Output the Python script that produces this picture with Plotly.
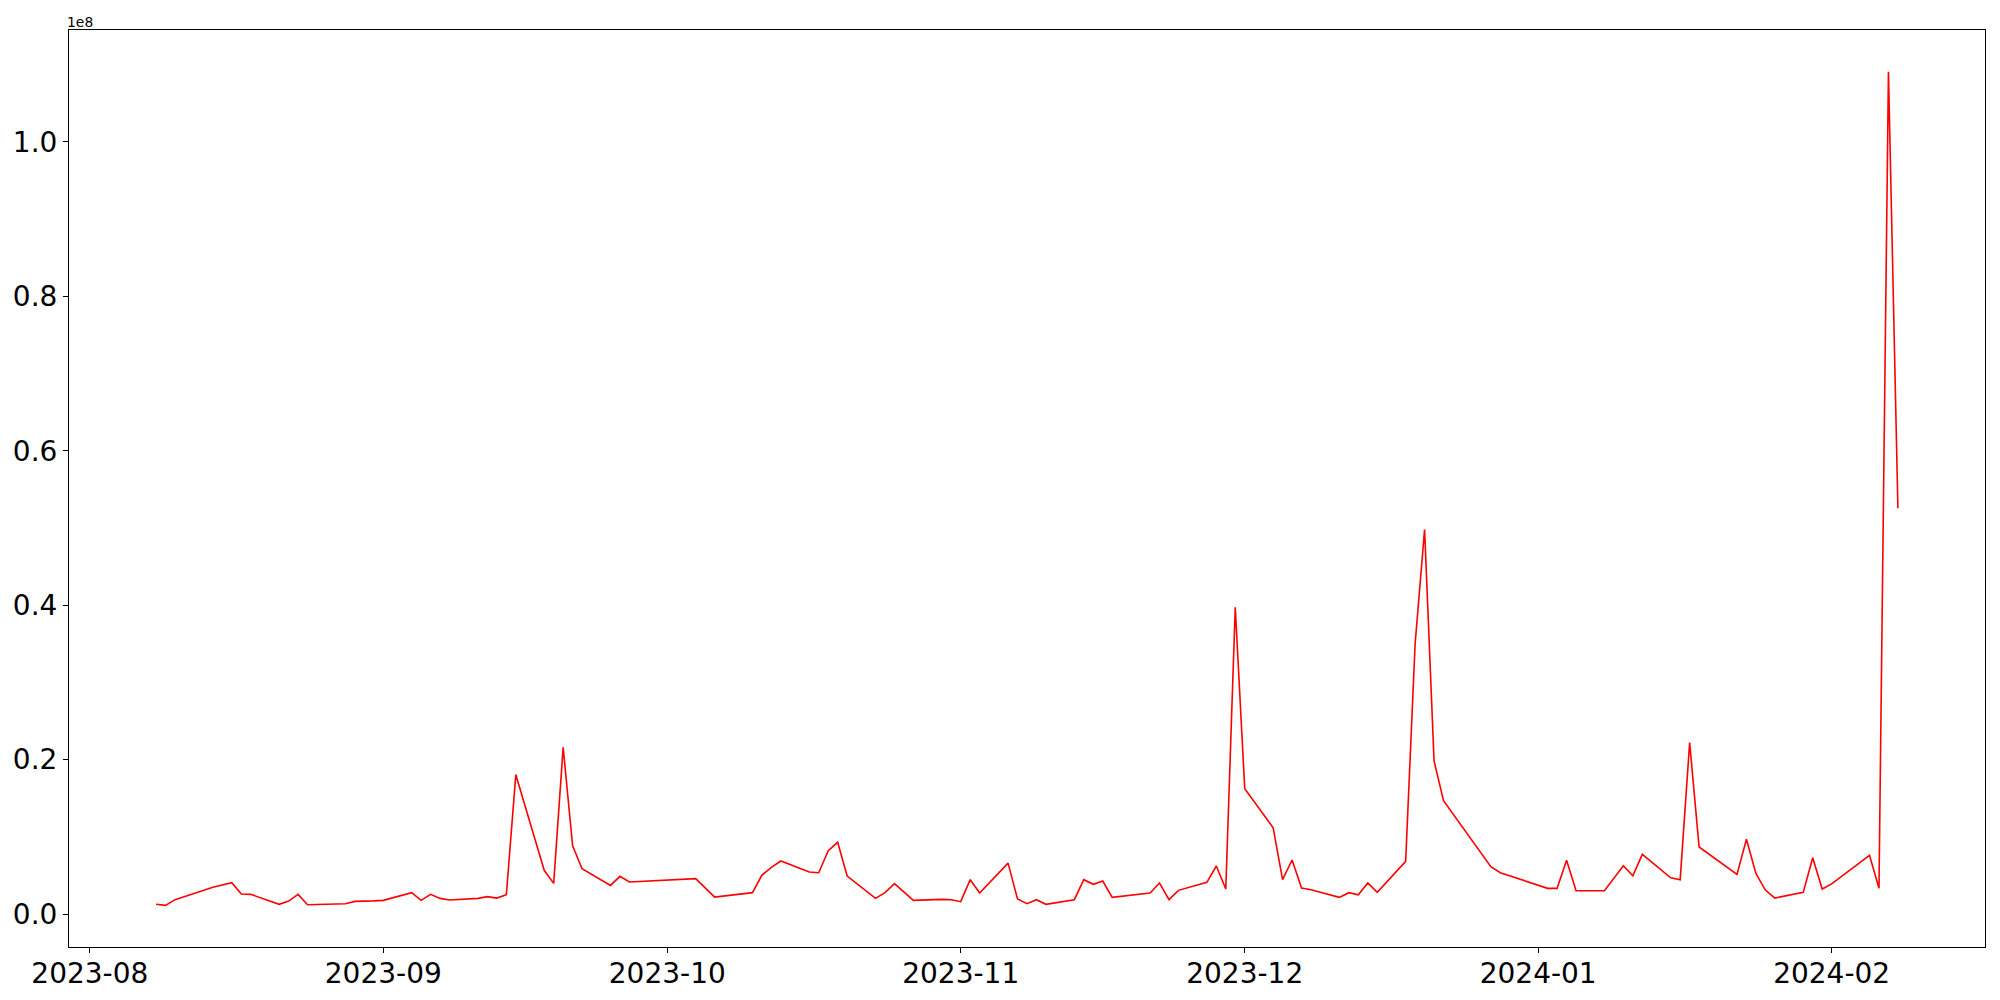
import pandas as pd
import plotly.graph_objects as go

# Dates of observations
dates = [
    "2023-08-08", "2023-08-09", "2023-08-10", "2023-08-14", "2023-08-16", "2023-08-17", "2023-08-18",
    "2023-08-21", "2023-08-22", "2023-08-23", "2023-08-24", "2023-08-28", "2023-08-29", "2023-08-30",
    "2023-08-31", "2023-09-01", "2023-09-04", "2023-09-05", "2023-09-06", "2023-09-07", "2023-09-08",
    "2023-09-11", "2023-09-12", "2023-09-13", "2023-09-14", "2023-09-15", "2023-09-18", "2023-09-19",
    "2023-09-20", "2023-09-21", "2023-09-22", "2023-09-25", "2023-09-26", "2023-09-27", "2023-10-04",
    "2023-10-06", "2023-10-10", "2023-10-11", "2023-10-12", "2023-10-13", "2023-10-16", "2023-10-17",
    "2023-10-18", "2023-10-19", "2023-10-20", "2023-10-23", "2023-10-24", "2023-10-25", "2023-10-27",
    "2023-10-30", "2023-10-31", "2023-11-01", "2023-11-02", "2023-11-03", "2023-11-06", "2023-11-07",
    "2023-11-08", "2023-11-09", "2023-11-10", "2023-11-13", "2023-11-14", "2023-11-15", "2023-11-16",
    "2023-11-17", "2023-11-21", "2023-11-22", "2023-11-23", "2023-11-24", "2023-11-27", "2023-11-28",
    "2023-11-29", "2023-11-30", "2023-12-01", "2023-12-04", "2023-12-05", "2023-12-06", "2023-12-07",
    "2023-12-08", "2023-12-11", "2023-12-12", "2023-12-13", "2023-12-14", "2023-12-15", "2023-12-18",
    "2023-12-19", "2023-12-20", "2023-12-21", "2023-12-22", "2023-12-27", "2023-12-28", "2024-01-02",
    "2024-01-03", "2024-01-04", "2024-01-05", "2024-01-08", "2024-01-10", "2024-01-11", "2024-01-12",
    "2024-01-15", "2024-01-16", "2024-01-17", "2024-01-18", "2024-01-22", "2024-01-23", "2024-01-24",
    "2024-01-25", "2024-01-26", "2024-01-29", "2024-01-30", "2024-01-31", "2024-02-01", "2024-02-05",
    "2024-02-06", "2024-02-07", "2024-02-08",
]

# Values in millions
values_m = [
    1.26, 1.13, 1.86, 3.46, 4.06, 2.59, 2.55,
    1.26, 1.68, 2.55, 1.21, 1.34, 1.64, 1.64,
    1.70, 1.77, 2.77, 1.77, 2.55, 2.03, 1.81,
    2.03, 2.25, 2.07, 2.50, 18.05, 5.66, 3.97,
    21.6, 8.85, 5.87, 3.71, 4.88, 4.15, 4.58,
    2.20, 2.77, 5.05, 6.05, 6.87, 5.44, 5.35,
    8.20, 9.29, 4.92, 2.03, 2.77, 3.93, 1.77,
    1.90, 1.86, 1.60, 4.45, 2.72, 6.60, 1.94,
    1.34, 1.86, 1.26, 1.86, 4.45, 3.85, 4.28,
    2.16, 2.72, 4.02, 1.86, 3.07, 4.11, 6.22,
    3.24, 39.74, 16.24, 11.18, 4.45, 7.00, 3.37,
    3.15, 2.16, 2.77, 2.50, 4.02, 2.81, 6.83,
    35.0, 49.8, 19.83, 14.69, 6.13, 5.35, 3.33,
    3.33, 6.96, 3.02, 3.02, 6.26, 4.96, 7.73,
    4.70, 4.45, 22.2, 8.68, 5.14, 9.68, 5.27,
    3.11, 2.07, 2.81, 7.30, 3.24, 3.90, 7.60,
    3.33, 109.1, 52.57,
]

x_tick_vals = ["2023-08-01", "2023-09-01", "2023-10-01", "2023-11-01", "2023-12-01", "2024-01-01", "2024-02-01"]
x_tick_text = ["2023-08", "2023-09", "2023-10", "2023-11", "2023-12", "2024-01", "2024-02"]
y_tick_vals = [0, 2e7, 4e7, 6e7, 8e7, 1e8]
y_tick_text = ["0.0", "0.2", "0.4", "0.6", "0.8", "1.0"]

x = pd.to_datetime(dates)
y = [v * 1e6 for v in values_m]

# matplotlib-like 5% margins
xmin, xmax = x.min(), x.max()
xspan = xmax - xmin
xrange_ = [xmin - 0.05 * xspan, xmax + 0.05 * xspan]
ymin, ymax = min(y), max(y)
yspan = ymax - ymin
yrange_ = [ymin - 0.05 * yspan, ymax + 0.05 * yspan]

fig = go.Figure()
fig.add_trace(go.Scatter(x=x, y=y, mode="lines", line=dict(color="red", width=1.6), showlegend=False))

font_family = "DejaVu Sans"
# page body has an 8px default margin, so the figure is shrunk by 8px
fig.update_layout(
    width=1992, height=992,
    margin=dict(l=61, r=15, t=22, b=53),
    paper_bgcolor="white", plot_bgcolor="white",
    font=dict(family=font_family, color="black"),
)
fig.update_xaxes(
    automargin=False,
    range=[str(xrange_[0]), str(xrange_[1])],
    tickvals=x_tick_vals, ticktext=x_tick_text,
    tickfont=dict(size=28, family=font_family, color="black"),
    showgrid=False, zeroline=False,
    showline=True, mirror=True, linecolor="black", linewidth=1.1,
    ticks="outside", ticklen=5, tickwidth=1.1, tickcolor="black",
    ticklabelstandoff=-4,
)
fig.update_yaxes(
    automargin=False,
    range=yrange_,
    tickvals=y_tick_vals, ticktext=y_tick_text,
    tickfont=dict(size=28, family=font_family, color="black"),
    showgrid=False, zeroline=False,
    showline=True, mirror=True, linecolor="black", linewidth=1.1,
    ticks="outside", ticklen=5, tickwidth=1.1, tickcolor="black",
)
fig.add_annotation(
    text="1e8", xref="paper", yref="paper", x=0, y=1,
    xanchor="left", yanchor="bottom", showarrow=False,
    font=dict(size=13.9, family=font_family, color="black"),
    xshift=-4, yshift=-2,
)

fig.write_html("out.html")
